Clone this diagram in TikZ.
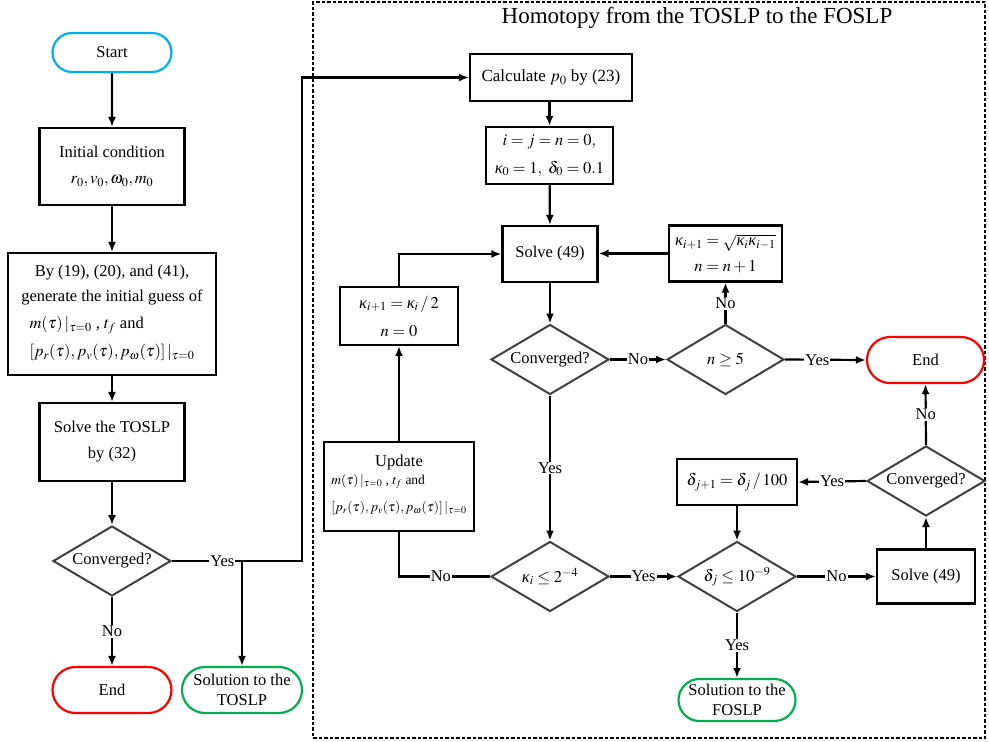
\documentclass[tikz,border=0pt]{standalone}
\usepackage{mathptmx}
\usepackage[no-math]{fontspec}
\setmainfont{Liberation Serif}
\usetikzlibrary{shapes.geometric,shapes.misc,arrows.meta}
\newcommand\fsA{\fontsize{16.5}{20}\selectfont}
\newcommand\fsB{\fontsize{17}{20}\selectfont}
\newcommand\fsT{\fontsize{23}{27}\selectfont}
\newcommand\fsU{\fontsize{13.5}{17}\selectfont}
\newcommand\kp{\mbox{\itshape κ}}
\definecolor{decgray}{RGB}{64,64,64}
\definecolor{startblue}{RGB}{0,176,240}
\definecolor{endred}{RGB}{255,0,0}
\definecolor{solgreen}{RGB}{0,176,80}
\begin{document}
\begin{tikzpicture}[x=1pt,y=-1pt,
  every node/.style={font=\fsA},
  box/.style={draw=black,line width=2.2pt,inner sep=0pt,align=center},
  term/.style={draw,line width=2.2pt,shape=rounded rectangle,inner sep=0pt,align=center},
  dec/.style={draw=decgray,line width=2pt,shape=diamond,inner sep=0pt,minimum width=118pt,minimum height=70pt,aspect=1.686},
  conn/.style={line width=2.2pt,-{Latex[length=10pt,width=8pt]}},
  plain/.style={line width=2.2pt},
  lab/.style={fill=white,inner sep=1pt},
  frame/.style={draw,line width=2.2pt,dash pattern=on 3.5pt off 2pt,inner sep=0pt},
]
\useasboundingbox (0,0) rectangle (989,742);
% frame
\node[frame,minimum width=672pt,minimum height=736pt] (frm) at (649,370) {};
\node (title) at (697,18) {\fsT Homotopy from the TOSLP to the FOSLP};
% left column
\node[term,draw=startblue,minimum width=119pt,minimum height=39pt] (start) at (112,52.5) {Start};
\node[box,minimum width=145pt,minimum height=77pt] (init) at (112,166.5) {Initial condition\\[6pt] $r_0, v_0, \omega_0, m_0$};
\node[box,minimum width=208pt,minimum height=122pt] (guess) at (112,314) {By (19), (20), and (41),\\[5pt] generate the initial guess of\\[7pt]
  \begin{tabular}[t]{@{}l@{}}$m(\tau)\,|_{\tau=0}$ , $t_f$ and\\[8pt] $[p_r(\tau), p_v(\tau), p_\omega(\tau)]\,|_{\tau=0}$\end{tabular}};
\node[box,minimum width=145pt,minimum height=78pt] (tos) at (112,442) {Solve the TOSLP\\[6pt] by (32)};
\node[dec] (conv1) at (112,561) {Converged?};
\node[term,draw=endred,minimum width=119pt,minimum height=46pt] (endL) at (112,690) {End};
\node[term,draw=solgreen,minimum width=120pt,minimum height=46pt] (solT) at (242,690) {Solution to the\\ TOSLP};
% right part
\node[box,minimum width=162pt,minimum height=47pt] (calc) at (551,77.5) {\fsB Calculate $p_0$ by (23)};
\node[box,minimum width=127pt,minimum height=57pt] (init2) at (549.5,155.5) {$i=j=n=0,$\\[8pt] $\kp_0=1,\ \delta_0=0.1$};
\node[box,minimum width=95pt,minimum height=56pt] (solve1) at (550,254) {Solve (49)};
\node[box,minimum width=113pt,minimum height=56pt] (sqrtb) at (725.5,253.5) {$\kp_{i+1}=\sqrt{\kp_i\kp_{i-1}}$\\[6pt] $n=n+1$};
\node[dec] (conv2) at (550,359.5) {Converged?};
\node[dec,minimum width=117pt] (nge) at (725.5,359.5) {$n\geq 5$};
\node[term,draw=endred,minimum width=117pt,minimum height=46pt] (endR) at (925.5,360) {End};
\node[box,minimum width=118pt,minimum height=58pt] (half) at (399,316) {$\kp_{i+1}=\kp_i\,/\,2$\\[8pt] $n=0$};
\node[box,minimum width=150pt,minimum height=89pt] (upd) at (399,486.5) {Update\\[-2pt]
  \begin{tabular}[t]{@{}l@{}}\fsU$m(\tau)\,|_{\tau=0}$ , $t_f$ and\\[7pt] \fsU$[p_r(\tau), p_v(\tau), p_\omega(\tau)]\,|_{\tau=0}$\end{tabular}};
\node[dec] (kap) at (550,576.5) {$\kp_i\leq 2^{-4}$};
\node[dec] (del) at (737,576.5) {$\delta_j\leq 10^{-9}$};
\node[box,minimum width=98pt,minimum height=54pt] (solve2) at (926,576.5) {Solve (49)};
\node[dec] (conv3) at (926,481) {Converged?};
\node[box,minimum width=120pt,minimum height=46pt] (dbox) at (737,482) {$\delta_{j+1}=\delta_j\,/\,100$};
\node[term,draw=solgreen,minimum width=117pt,minimum height=42pt] (solF) at (737,700) {Solution to the\\ FOSLP};
% junctions
\coordinate (j0) at (242,561);
\coordinate (j1) at (302,561);
% connectors left
\draw[conn] (start) -- (init);
\draw[conn] (init) -- (guess);
\draw[conn] (guess) -- (tos);
\draw[conn] (tos) -- (conv1);
\draw[conn] (conv1) -- node[lab]{No} (endL);
\draw[conn] (conv1.east) -- node[lab,pos=0.72]{Yes} (j0) -- (j1) |- (calc.west);
\draw[conn] (j0) -- (solT.north);
% connectors right
\draw[conn] (calc.south -| init2.north) -- (init2.north);
\draw[conn] (init2) -- (solve1);
\draw[conn] (solve1) -- (conv2);
\draw[conn] (conv2.east) -- node[lab]{No} (nge.west);
\draw[conn] (nge.east) -- node[lab,pos=0.4]{Yes} (endR.west);
\draw[conn] (nge.north) -- node[lab]{No} (sqrtb.south);
\draw[conn] (sqrtb.west) -- (solve1.east |- sqrtb.west);
\draw[conn] (conv2.south) -- node[lab]{Yes} (kap.north);
\draw[plain] (kap.west) -- node[lab,pos=0.54]{No} (kap.west -| upd.south) -- (upd.south);
\draw[conn] (upd.north) -- (half.south);
\draw[conn] (half.north) |- (solve1.west);
\draw[conn] (kap.east) -- node[lab]{Yes} (del.west);
\draw[conn] (del.east) -- node[lab]{No} (solve2.west);
\draw[conn] (solve2.north) -- (conv3.south);
\draw[conn] (conv3.north) -- node[lab]{No} (endR.south);
\draw[conn] (conv3.west) -- node[lab]{Yes} (dbox.east);
\draw[conn] (dbox.south) -- (del.north);
\draw[conn] (del.south) -- node[lab]{Yes} (solF.north);
\end{tikzpicture}
\end{document}
